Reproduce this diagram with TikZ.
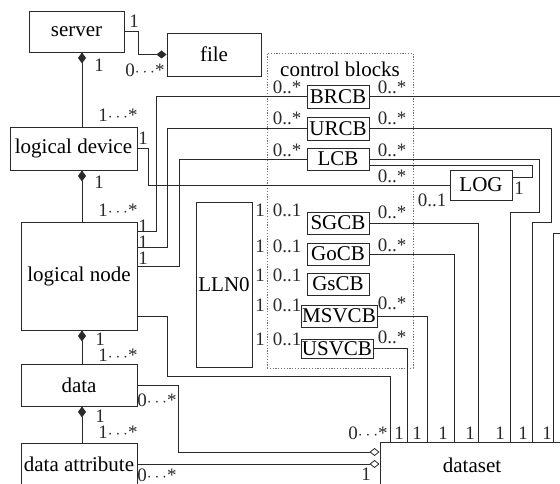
\documentclass[tikz,border=0pt]{standalone}
\usepackage{fontspec}
\setmainfont{Liberation Serif}
\usetikzlibrary{arrows.meta,positioning}
\definecolor{cline}{HTML}{2A2A2A}
\definecolor{cgray}{HTML}{707070}

\begin{document}
\begin{tikzpicture}[x=1pt,y=-1pt,
  font=\rmfamily\fontsize{21}{24}\selectfont,
  box/.style={draw=cline,line width=0.9pt,inner sep=1pt,minimum width=116pt},
  cb/.style={draw=cline,line width=0.9pt,inner sep=1pt,minimum width=62pt,minimum height=22pt},
  frame/.style={draw=cgray,line width=0.8pt,dash pattern=on 1.2pt off 1.6pt},
  lab/.style={inner sep=0pt,font=\rmfamily\fontsize{19}{21}\selectfont,text=cline},
  line/.style={cline,line width=0.8pt},
  comp/.style={line,{Diamond[length=11pt,width=8pt]}-},
  compe/.style={line,-{Diamond[length=10pt,width=8pt]}},
  agg/.style={line,-{Diamond[open,length=10pt,width=8pt]}}]
  \useasboundingbox (0,0) rectangle (560,484);
  % class boxes
  \node[box,minimum width=95pt,minimum height=41pt] (server) at (76.5,31.5) {server};
  \node[box,minimum width=94pt,minimum height=43pt] (file) at (214,54.5) {file};
  \node[box,minimum width=127pt,minimum height=43pt] (ld) at (73.5,148.5) {logical device};
  \node[box,minimum height=108pt] (ln) at (79,276) {logical node};
  \node[box,minimum height=42pt] (data) at (79,385) {data};
  \node[box,minimum height=42pt] (da) at (79,464) {data attribute};
  \node[box,minimum width=56pt,minimum height=165pt] (lln0) at (224,284.5) {LLN0};
  \node[box,minimum width=184pt,minimum height=46pt] (ds) at (472,465) {dataset};
  % control blocks
  \node[frame,minimum width=146pt,minimum height=315pt] (cbf) at (340,210.5) {};
  \node[anchor=base] (cbl) at (340,77) {control blocks};
  \node[cb,minimum height=23pt] (brcb) at (338,96.5) {BRCB};
  \node[cb,minimum height=23pt] (urcb) at (338,128.5) {URCB};
  \node[cb] (lcb) at (338,159) {LCB};
  \node[cb] (sgcb) at (338,223) {SGCB};
  \node[cb] (gocb) at (338,254) {GoCB};
  \node[cb] (gscb) at (338,284) {GsCB};
  \node[cb,minimum width=76pt] (msvcb) at (339,316) {MSVCB};
  \node[cb,minimum width=72pt,minimum height=19pt] (usvcb) at (337,348.5) {USVCB};
  \node[cb,minimum height=30pt] (log) at (481,185) {LOG};
  \coordinate (spine) at (82,0);
  % composition
  \draw[compe] (server.east) -- ++(14,0) |- (file.west);
  \draw[comp] (server.south -| spine) -- (ld.north -| spine);
  \draw[comp] (ld.south -| spine) -- (ln.north -| spine);
  \draw[comp] (ln.south -| spine) -- (data.north -| spine);
  \draw[comp] (data.south -| spine) -- (da.north -| spine);
  % logical node / device to blocks
  \draw[line] ([yshift=-10pt]ln.north east) -- ++(19,0) |- (brcb.west);
  \draw[line] ([yshift=-26pt]ln.north east) -- ++(30,0) |- (urcb.west);
  \draw[line] ([yshift=-45pt]ln.north east) -- ++(42,0) |- (lcb.west);
  \draw[line] (ld.east) -- ++(11,0) |- (log.west);
  \draw[line] ([yshift=-6pt]lcb.east) -- ++(163,0) |- ([yshift=8pt]log.east);
  % to dataset
  \draw[line] (brcb.east) -- ++(210,0) -- ++(0,136.5) -| ([xshift=174pt]ds.north west);
  \draw[line] (urcb.east) -- ++(182,0) -- ++(0,93.5) -| ([xshift=153pt]ds.north west);
  \draw[line] (lcb.east) -- ++(170,0) -- ++(0,53) -| ([xshift=131pt]ds.north west);
  \foreach \n/\dx in {sgcb/99,gocb/75,msvcb/48,usvcb/28}
    \draw[line] (\n.east) -| ([xshift=\dx pt]ds.north west);
  \draw[line] ([yshift=-40pt]ln.east) -- ++(30,0) -- ++(0,60) -| ([xshift=11pt]ds.north west);
  \draw[agg] (data.east) -- ++(41,0) |- ([yshift=13pt]ds.west);
  \draw[agg] (da.east) -- (da.east -| ds.west);
  % multiplicities
  \node[lab] (m1) at (134,21) {1};
  \node[lab] (m2) at (145,70) {0$\cdots$*};
  \node[lab] (m3) at (99,65) {1};
  \node[lab] (m4) at (118,115) {1$\cdots$*};
  \node[lab] (m5) at (99,182) {1};
  \node[lab] (m6) at (118,210) {1$\cdots$*};
  \node[lab] (m7) at (100,339) {1};
  \node[lab] (m8) at (118,355) {1$\cdots$*};
  \node[lab] (m9) at (100,416) {1};
  \node[lab] (m10) at (118,432) {1$\cdots$*};
  \node[lab] (m11) at (143,138) {1};
  \node[lab] (m12) at (157,400) {0$\cdots$*};
  \node[lab] (m13) at (157,475) {0$\cdots$*};
  \foreach \y [count=\i] in {226,242,258}
    \node[lab] (lr\i) at (143,\y) {1};
  \foreach \y [count=\i] in {87,118,150}
    \node[lab] (ls\i) at (287,\y) {0..*};
  \foreach \y [count=\i] in {87,118,150,176,212,245,303,337}
    \node[lab] (rs\i) at (392,\y) {0..*};
  \foreach \y [count=\i] in {210,246,275,305,339} {
    \node[lab] (lo\i) at (260,\y) {1};
    \node[lab] (lz\i) at (287,\y) {0..1};
  }
  \node[lab] (g1) at (432,200) {0..1};
  \node[lab] (g2) at (519,188) {1};
  \node[lab] (dt0) at (368,433) {0$\cdots$*};
  \foreach \x [count=\i] in {399,417,443,470,500,523,547}
    \node[lab] (dt\i) at (\x,433) {1};
  \node[lab] (db) at (366,474) {1};
\end{tikzpicture}
\end{document}
